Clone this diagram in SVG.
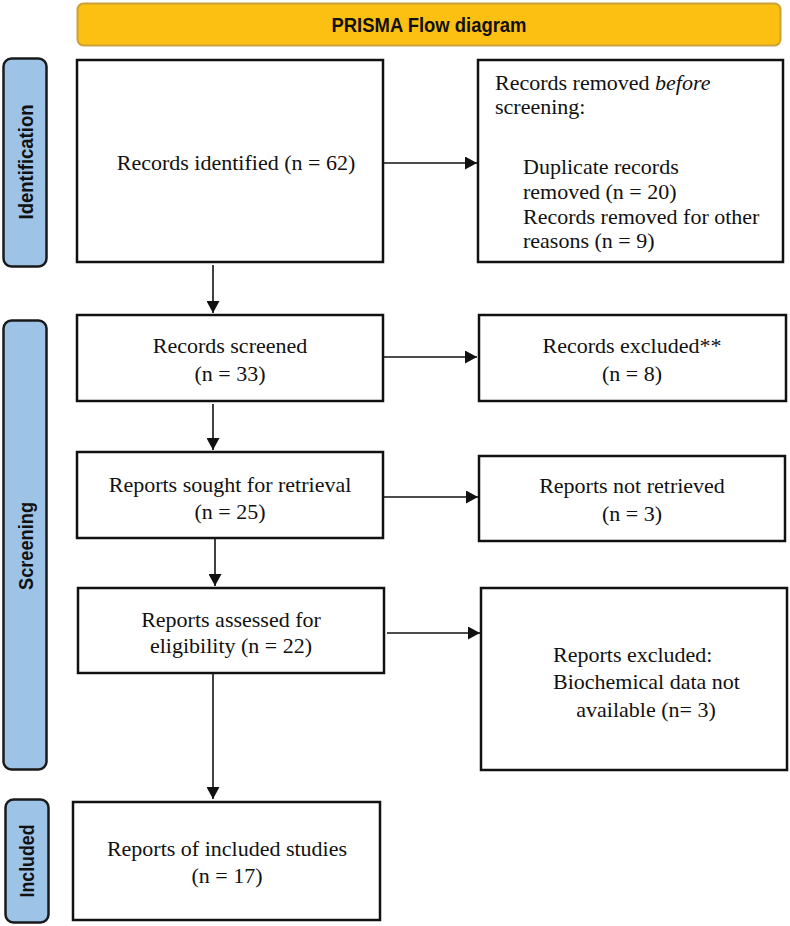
<svg xmlns="http://www.w3.org/2000/svg" width="790" height="926" viewBox="0 0 790 926">
<style>
.box{fill:#fff;stroke:#111;stroke-width:2.5}
.side{fill:#9DC3E6;stroke:#1a1a1a;stroke-width:2.5}
.t{font-family:"Liberation Serif","Times New Roman",serif;font-size:22px;fill:#111}
.c{text-anchor:middle}
.s{font-family:"Liberation Sans",Arial,sans-serif;font-weight:bold;font-size:20px;fill:#111;text-anchor:middle}
.conn{stroke:#111;stroke-width:1.6;fill:none;marker-end:url(#ah)}
</style>
<defs>
<marker id="ah" markerUnits="userSpaceOnUse" markerWidth="13" markerHeight="13" refX="12" refY="6.5" orient="auto">
<path d="M0,0 L12,6.5 L0,13 z" fill="#111"/>
</marker>
</defs>
<rect width="790" height="926" fill="#fff"/>
<g id="title">
<rect x="77.5" y="3.5" width="703" height="42" rx="6" fill="#FCC012" stroke="#C9A23A" stroke-width="2"/>
<text x="429" y="32" font-family="'Liberation Sans',Arial,sans-serif" font-weight="bold" font-size="20" fill="#111" text-anchor="middle" textLength="195" lengthAdjust="spacingAndGlyphs">PRISMA Flow diagram</text>
</g>
<g id="stage-identification">
<rect class="side" x="3.5" y="58.5" width="43" height="208" rx="8"/>
<text class="s" transform="translate(33,162) rotate(-90)" textLength="115" lengthAdjust="spacingAndGlyphs">Identification</text>
</g>
<g id="stage-screening">
<rect class="side" x="3.5" y="320.5" width="43" height="449" rx="8"/>
<text class="s" transform="translate(33,546) rotate(-90)" textLength="88" lengthAdjust="spacingAndGlyphs">Screening</text>
</g>
<g id="stage-included">
<rect class="side" x="5.5" y="799.5" width="43" height="123" rx="8"/>
<text class="s" transform="translate(34,861) rotate(-90)" textLength="73" lengthAdjust="spacingAndGlyphs">Included</text>
</g>
<g id="records-identified">
<rect class="box" x="77" y="60" width="306" height="202"/>
<text class="t c" x="236" y="170">Records identified (n = 62)</text>
</g>
<g id="records-removed">
<rect class="box" x="478" y="60" width="305" height="202"/>
<text class="t" x="495" y="90">Records removed <tspan font-style="italic">before</tspan></text>
<text class="t" x="495" y="114">screening:</text>
<text class="t" x="523" y="174">Duplicate records</text>
<text class="t" x="523" y="199">removed  (n = 20)</text>
<text class="t" x="523" y="224">Records removed for other</text>
<text class="t" x="523" y="248">reasons (n = 9)</text>
</g>
<g id="records-screened">
<rect class="box" x="77" y="315" width="306" height="86"/>
<text class="t c" x="230" y="353">Records screened</text>
<text class="t c" x="230" y="381">(n = 33)</text>
</g>
<g id="records-excluded">
<rect class="box" x="479" y="315" width="307" height="86"/>
<text class="t c" x="632" y="353">Records excluded**</text>
<text class="t c" x="632" y="381">(n = 8)</text>
</g>
<g id="reports-sought">
<rect class="box" x="77" y="452" width="306" height="86"/>
<text class="t c" x="230" y="492">Reports sought for retrieval</text>
<text class="t c" x="230" y="519">(n = 25)</text>
</g>
<g id="reports-not-retrieved">
<rect class="box" x="479" y="456" width="306" height="85"/>
<text class="t c" x="632" y="493">Reports not retrieved</text>
<text class="t c" x="632" y="521">(n = 3)</text>
</g>
<g id="reports-assessed">
<rect class="box" x="78" y="588" width="306" height="85"/>
<text class="t c" x="231" y="627">Reports assessed for</text>
<text class="t c" x="231" y="653">eligibility (n = 22)</text>
</g>
<g id="reports-excluded">
<rect class="box" x="481" y="588" width="306" height="182"/>
<text class="t" x="553" y="662">Reports excluded:</text>
<text class="t" x="553" y="689">Biochemical data not</text>
<text class="t c" x="646" y="717">available (n= 3)</text>
</g>
<g id="reports-included">
<rect class="box" x="73" y="802" width="307" height="118"/>
<text class="t c" x="227" y="856">Reports of included studies</text>
<text class="t c" x="227" y="883">(n = 17)</text>
</g>
<g id="connectors">
<line class="conn" x1="213" y1="265" x2="213" y2="313"/>
<line class="conn" x1="384" y1="163" x2="477" y2="163"/>
<line class="conn" x1="213" y1="404" x2="213" y2="450"/>
<line class="conn" x1="384" y1="357" x2="477" y2="357"/>
<line class="conn" x1="215" y1="539" x2="215" y2="586"/>
<line class="conn" x1="384" y1="497" x2="478" y2="497"/>
<line class="conn" x1="213" y1="674" x2="213" y2="799"/>
<line class="conn" x1="387" y1="633" x2="480" y2="633"/>
</g>
</svg>
